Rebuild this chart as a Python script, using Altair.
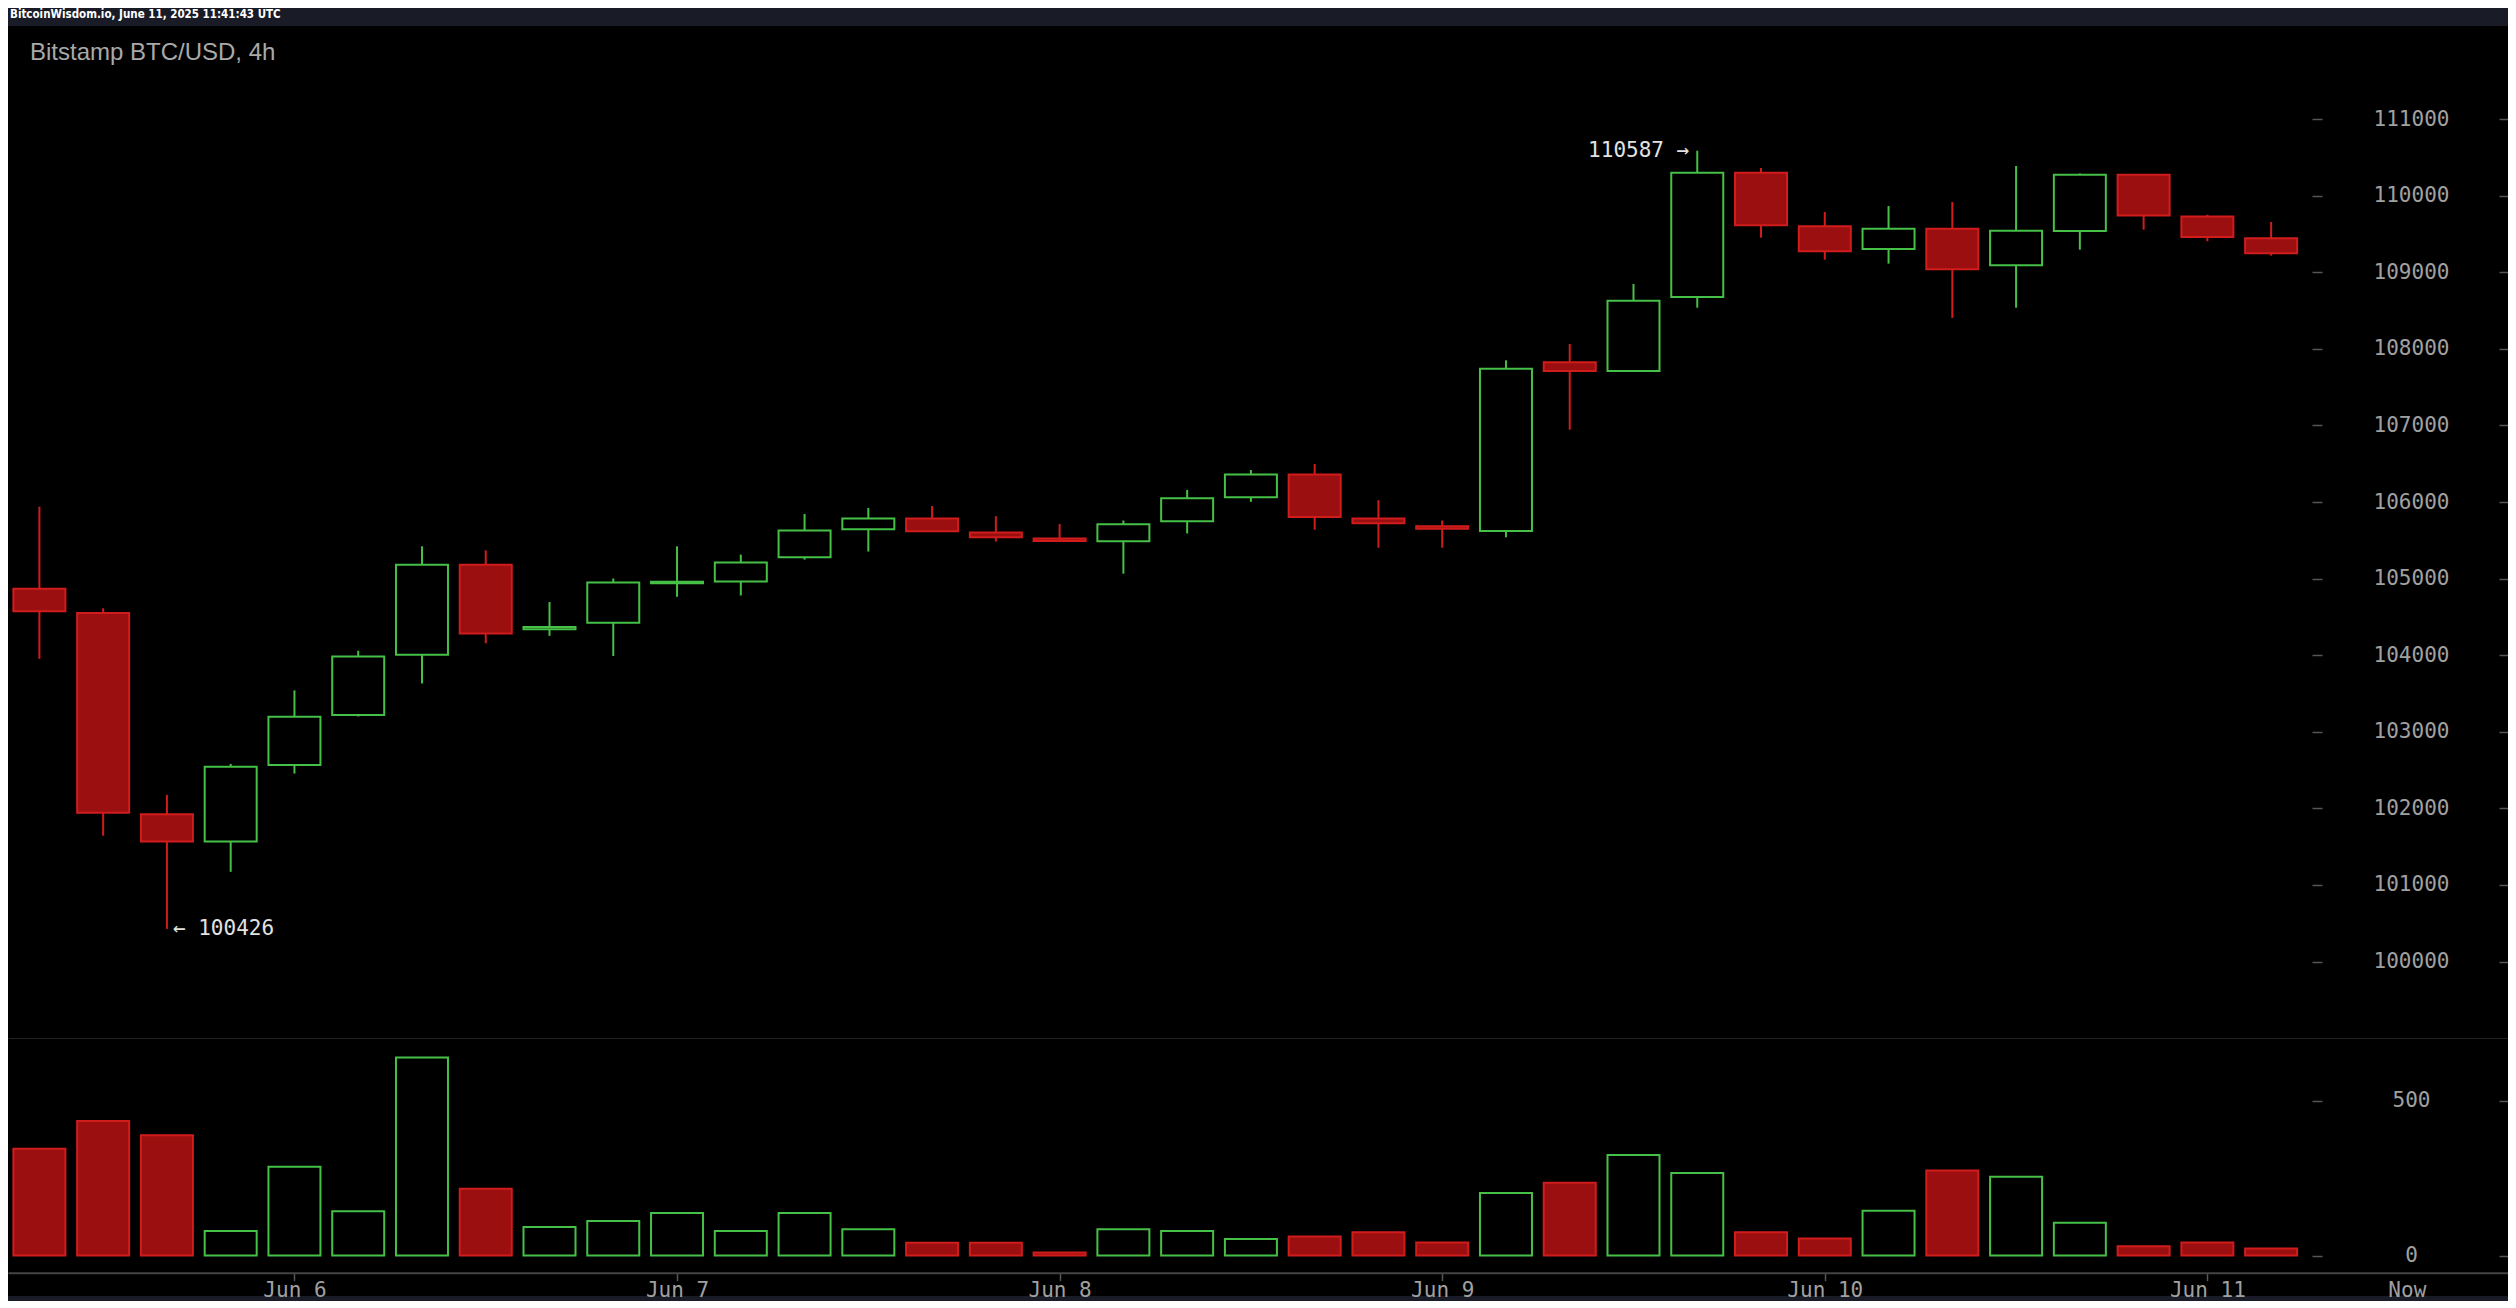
import altair as alt
import pandas as pd

# ---- data (Bitstamp BTC/USD, 4h candles) ----
opens = [104867, 104553, 101922, 101569, 102567, 103219, 104006, 105182, 104340, 104425,
         104940, 104964, 105279, 105644, 105784, 105603, 105524, 105489, 105749, 106064,
         106359, 105784, 105684, 105622, 107824, 107711, 108677, 110300, 109600, 109304,
         109569, 109091, 109539, 110274, 109730, 109444]
highs = [105939, 104613, 102176, 102581, 103541, 104058, 105422, 105370, 104695, 105002,
         105422, 105314, 105844, 105923, 105948, 105814, 105713, 105759, 106159, 106419,
         106498, 106024, 105759, 107851, 108064, 108848, 110587, 110362, 109787, 109865,
         109918, 110388, 110290, 110280, 109752, 109657]
lows = [103953, 101644, 100426, 101172, 102455, 103200, 103631, 104156, 104253, 103990,
        104763, 104780, 105249, 105354, 105610, 105484, 105480, 105065, 105590, 106003,
        105639, 105404, 105404, 105540, 106945, 107700, 108538, 109452, 109165, 109113,
        108404, 108538, 109295, 109556, 109405, 109217]
closes = [104575, 101944, 101569, 102543, 103196, 103984, 105182, 104283, 104370, 104950,
          104960, 105210, 105629, 105784, 105619, 105539, 105490, 105709, 106049, 106359,
          105804, 105724, 105650, 107741, 107711, 108630, 110300, 109613, 109274, 109569,
          109039, 109543, 110274, 109743, 109461, 109248]
volumes = [344, 434, 388, 79, 286, 143, 639, 215, 92, 111,
           137, 79, 137, 85, 41, 41, 10, 85, 79, 53,
           61, 75, 42, 202, 235, 324, 266, 75, 55, 144,
           274, 254, 106, 30, 42, 23]
price_ticks = [100000, 101000, 102000, 103000, 104000, 105000,
               106000, 107000, 108000, 109000, 110000, 111000]
volume_ticks = [0, 500]
day_ticks = ["2025-06-06", "2025-06-07", "2025-06-08", "2025-06-09", "2025-06-10", "2025-06-11"]
now_label = "2025-06-11T11:41:43Z"

start = pd.Timestamp("2025-06-05T08:00:00Z")
times = pd.date_range(start, periods=len(opens), freq="4h")
iso = [t.strftime("%Y-%m-%dT%H:%M:%SZ") for t in times]

df = pd.DataFrame({"t": iso, "open": opens, "high": highs, "low": lows,
                   "close": closes, "volume": volumes})
df["top"] = df[["open", "close"]].max(axis=1)
df["bot"] = df[["open", "close"]].min(axis=1)
df["zero"] = 0


def ms(ts):
    return int(pd.Timestamp(ts).value // 10**6)


hi_i = int(df["high"].idxmax())
lo_i = int(df["low"].idxmin())
hi_df = pd.DataFrame({"t": [iso[hi_i]], "price": [highs[hi_i]], "label": [f"{highs[hi_i]} \u2192"]})
lo_df = pd.DataFrame({"t": [iso[lo_i]], "price": [lows[lo_i]], "label": [f"\u2190 {lows[lo_i]}"]})

# ---- styling ----
GREEN = "#46c046"
RED_LINE = "#d11c1c"
RED_FILL = "#9b0f10"
AXIS_GREY = "#444444"
TICK_GREY = "#555555"
LABEL_GREY = "#a0a0a0"
BG = "#191c27"
MONO = "DejaVu Sans Mono"

W = 2500
H_PRICE = 1013
H_VOL = 257

x_dom = [ms(start - pd.Timedelta(hours=1.6557)), ms(start + pd.Timedelta(hours=154.545))]
x_scale = alt.Scale(type="utc", domain=x_dom, nice=False)

price_scale = alt.Scale(domain=[98989, 112216], nice=False, zero=False)
vol_scale = alt.Scale(domain=[-130.6, 698.4], nice=False, zero=False)

up = "datum.close >= datum.open"


def right_axis(values):
    return alt.Axis(orient="right", offset=-196, values=values, domain=False,
                    tickSize=10, tickColor=TICK_GREY, tickWidth=1.5,
                    labelFont=MONO, labelFontSize=21, labelColor=LABEL_GREY,
                    labelAlign="center", labelBaseline="middle", labelPadding=89,
                    labelOverlap=False, format="d",
                    grid=True, gridColor=TICK_GREY, gridWidth=1.5, gridDash=[9, 5000],
                    title=None)


price_yaxis = right_axis(price_ticks)
vol_yaxis = right_axis(volume_ticks)

price_xaxis = alt.Axis(labels=False, ticks=False, grid=False, domain=True,
                       domainColor=AXIS_GREY, domainWidth=2, title=None)

now_ms = ms(now_label)
thr = ms("2025-06-11T06:00:00Z")
now_test = f"datum.value > {thr}"
vol_xaxis = alt.Axis(values=[ms(d + "T00:00:00Z") for d in day_ticks] + [now_ms],
                     offset=-23.3, domain=True, domainColor=AXIS_GREY, domainWidth=2,
                     tickSize=8, tickColor=TICK_GREY, tickWidth=1.5,
                     tickOpacity={"condition": {"test": now_test, "value": 0}, "value": 1},
                     labelOffset={"condition": {"test": now_test, "value": 13}, "value": 0},
                     labelExpr=f"{now_test} ? 'Now' : utcFormat(datum.value, '%b %-d')",
                     labelFont=MONO, labelFontSize=21, labelColor=LABEL_GREY,
                     labelPadding=-1, labelFlush=False, labelOverlap=False,
                     grid=False, title=None)

xp = alt.X("t:T", scale=x_scale, axis=price_xaxis)
line_color = alt.condition(up, alt.value(GREEN), alt.value(RED_LINE))
body_fill = alt.condition(up, alt.value("#000000"), alt.value(RED_FILL))

base = alt.Chart(df)

wick_hi = base.mark_rule(strokeWidth=2).encode(
    x=xp, y=alt.Y("high:Q", scale=price_scale, axis=price_yaxis), y2="top:Q", color=line_color)
wick_lo = base.mark_rule(strokeWidth=2).encode(
    x=xp, y=alt.Y("bot:Q", scale=price_scale, axis=price_yaxis), y2="low:Q", color=line_color)
body = base.mark_bar(size=52, strokeWidth=2).encode(
    x=xp, y=alt.Y("open:Q", scale=price_scale, axis=price_yaxis), y2="close:Q",
    fill=body_fill, stroke=line_color)
ann_hi = alt.Chart(hi_df).mark_text(align="right", baseline="middle", dx=-8, font=MONO,
                                    fontSize=21, color="#e2e2e2").encode(
    x=xp, y=alt.Y("price:Q", scale=price_scale, axis=price_yaxis), text="label:N")
ann_lo = alt.Chart(lo_df).mark_text(align="left", baseline="middle", dx=6, font=MONO,
                                    fontSize=21, color="#e2e2e2").encode(
    x=xp, y=alt.Y("price:Q", scale=price_scale, axis=price_yaxis), text="label:N")

price = alt.layer(wick_hi, wick_lo, body, ann_hi, ann_lo).properties(
    width=W, height=H_PRICE,
    title=alt.TitleParams("Bitstamp BTC/USD, 4h", anchor="start", orient="top",
                          offset=-58, dx=22, fontSize=24, font="Liberation Sans",
                          fontWeight="normal", color="#a9a9a9", baseline="alphabetic"))

vol = base.mark_bar(size=52, strokeWidth=2).encode(
    x=alt.X("t:T", scale=x_scale, axis=vol_xaxis),
    y=alt.Y("volume:Q", scale=vol_scale, axis=vol_yaxis), y2="zero:Q",
    fill=body_fill, stroke=line_color).properties(width=W, height=H_VOL)

chart = alt.vconcat(price, vol, spacing=0).properties(
    title=alt.TitleParams("BitcoinWisdom.io, June 11, 2025 11:41:43 UTC", anchor="start",
                          fontSize=11.5, font="DejaVu Sans Condensed, Roboto, sans-serif",
                          fontWeight="bold", color="#ffffff", dx=2, offset=-3,
                          baseline="alphabetic"),
    padding=0, background=BG,
).configure_view(stroke=None, fill="#000000")

chart.save("out.html", embed_options={"renderer": "svg", "actions": False})
